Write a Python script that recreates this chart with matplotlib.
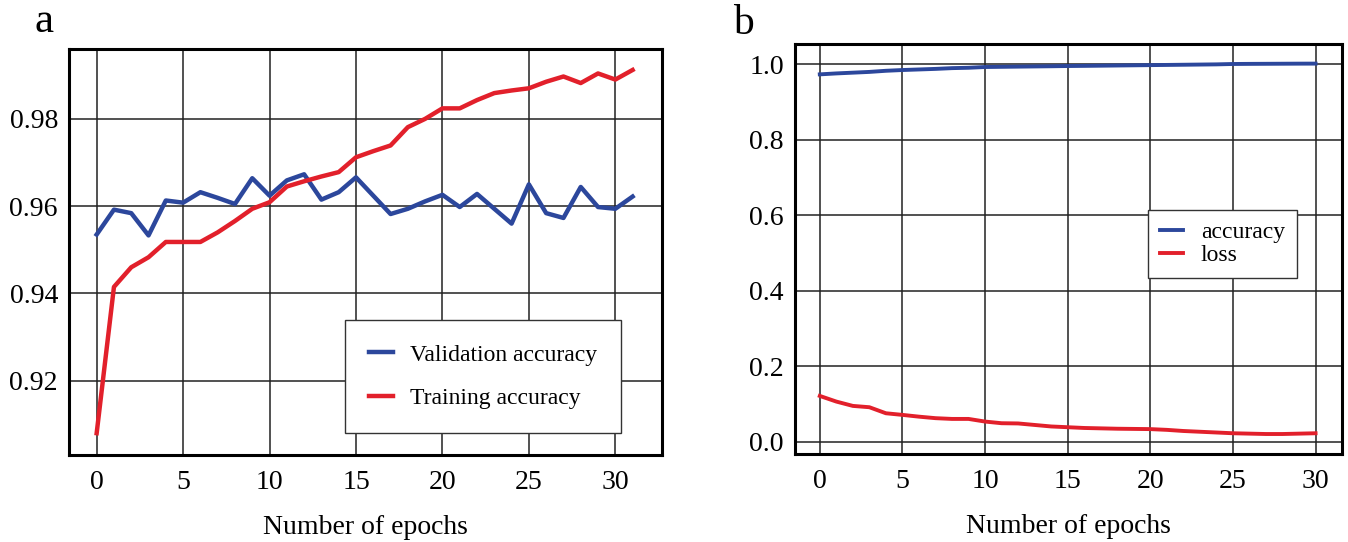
import numpy as np
from matplotlib import pyplot as plt

plt.rcParams["font.family"] = ["Liberation Serif", "DejaVu Serif"]

# panel a
epochs_a = list(range(32))
val_acc = [0.9535, 0.9592, 0.9584, 0.9533, 0.9613, 0.9608, 0.9632, 0.9619,
           0.9605, 0.9664, 0.9624, 0.9659, 0.9673, 0.9615, 0.9632, 0.9666,
           0.9624, 0.9582, 0.9594, 0.9611, 0.9626, 0.9598, 0.9628, 0.9594,
           0.9560, 0.9650, 0.9584, 0.9573, 0.9644, 0.9598, 0.9594, 0.9622]
train_acc = [0.908, 0.9415, 0.946, 0.9483, 0.9518, 0.9518, 0.9518, 0.954,
             0.9566, 0.9594, 0.9609, 0.9645, 0.9657, 0.9668, 0.9678, 0.9712,
             0.9726, 0.9739, 0.9781, 0.980, 0.9824, 0.9824, 0.9843, 0.9859,
             0.9865, 0.987, 0.9885, 0.9897, 0.9882, 0.9904, 0.989, 0.9912]

# panel b
epochs_b = list(range(31))
accuracy = [0.9735, 0.976, 0.978, 0.980, 0.983, 0.985, 0.9865, 0.988, 0.990,
            0.991, 0.993, 0.9935, 0.994, 0.9945, 0.995, 0.9956, 0.996, 0.9965,
            0.997, 0.9975, 0.998, 0.9985, 0.999, 0.9995, 1.000, 1.001, 1.0013,
            1.0015, 1.0017, 1.0019, 1.002]
loss = [0.121, 0.106, 0.0945, 0.091, 0.075, 0.0707, 0.066, 0.062, 0.060,
        0.060, 0.053, 0.0486, 0.048, 0.044, 0.040, 0.038, 0.036, 0.035, 0.034,
        0.0335, 0.033, 0.031, 0.028, 0.026, 0.024, 0.022, 0.021, 0.020, 0.020,
        0.021, 0.022]

blue = "#2c479c"
red = "#e2202b"

fig = plt.figure(figsize=(13.48, 5.42), dpi=100)
ax1 = fig.add_axes([69 / 1348, 1 - 455 / 542, (662 - 69) / 1348, (455 - 49) / 542])
ax2 = fig.add_axes([795 / 1348, 1 - 454 / 542, (1342 - 795) / 1348, (454 - 44) / 542])

for ax in (ax1, ax2):
    ax.grid(True, color="#222222", linewidth=1.1)
    ax.set_axisbelow(True)
    for s in ax.spines.values():
        s.set_linewidth(2.2)
    ax.tick_params(length=0, labelsize=20)
    ax.tick_params(axis="x", pad=11)
    ax.tick_params(axis="y", pad=8)
    ax.set_xlabel("Number of epochs", fontsize=20, labelpad=14)

ax1.plot(epochs_a, val_acc, color=blue, lw=3.2, label="Validation accuracy")
ax1.plot(epochs_a, train_acc, color=red, lw=3.2, label="Training accuracy")
ax1.set_xlim(-1.6, 32.7)
ax1.set_ylim(0.903, 0.996)
ax1.set_xticks([0, 5, 10, 15, 20, 25, 30])
ax1.set_yticks([0.92, 0.94, 0.96, 0.98])
ax1.set_yticklabels(["0.92", "0.94", "0.96", "0.98"])
leg1 = ax1.legend(loc="lower right", bbox_to_anchor=(0.931, 0.054), fontsize=17,
                  frameon=True, fancybox=False, framealpha=1, edgecolor="#333333",
                  handlelength=1.0, handletextpad=0.75, borderpad=1.0,
                  labelspacing=0.95, borderaxespad=0)
leg1.get_frame().set_linewidth(1.0)

ax2.plot(epochs_b, accuracy, color=blue, lw=2.8, label="accuracy")
ax2.plot(epochs_b, loss, color=red, lw=2.8, label="loss")
ax2.set_xlim(-1.5, 31.6)
ax2.set_ylim(-0.033, 1.054)
ax2.set_xticks([0, 5, 10, 15, 20, 25, 30])
ax2.set_yticks([0.0, 0.2, 0.4, 0.6, 0.8, 1.0])
ax2.set_yticklabels(["0.0", "0.2", "0.4", "0.6", "0.8", "1.0"])
leg2 = ax2.legend(loc="upper left", bbox_to_anchor=(0.645, 0.595), fontsize=17,
                  frameon=True, fancybox=False, framealpha=1, edgecolor="#333333",
                  handlelength=1.0, handletextpad=0.75, borderpad=0.5,
                  labelspacing=0.05, borderaxespad=0)
leg2.get_frame().set_linewidth(1.0)

fig.text(44 / 1348, 1 - 22 / 542, "a", fontsize=31, ha="center", va="center")
fig.text(743 / 1348, 1 - 24 / 542, "b", fontsize=30, ha="center", va="center")

fig.savefig("out.png", dpi=100)
